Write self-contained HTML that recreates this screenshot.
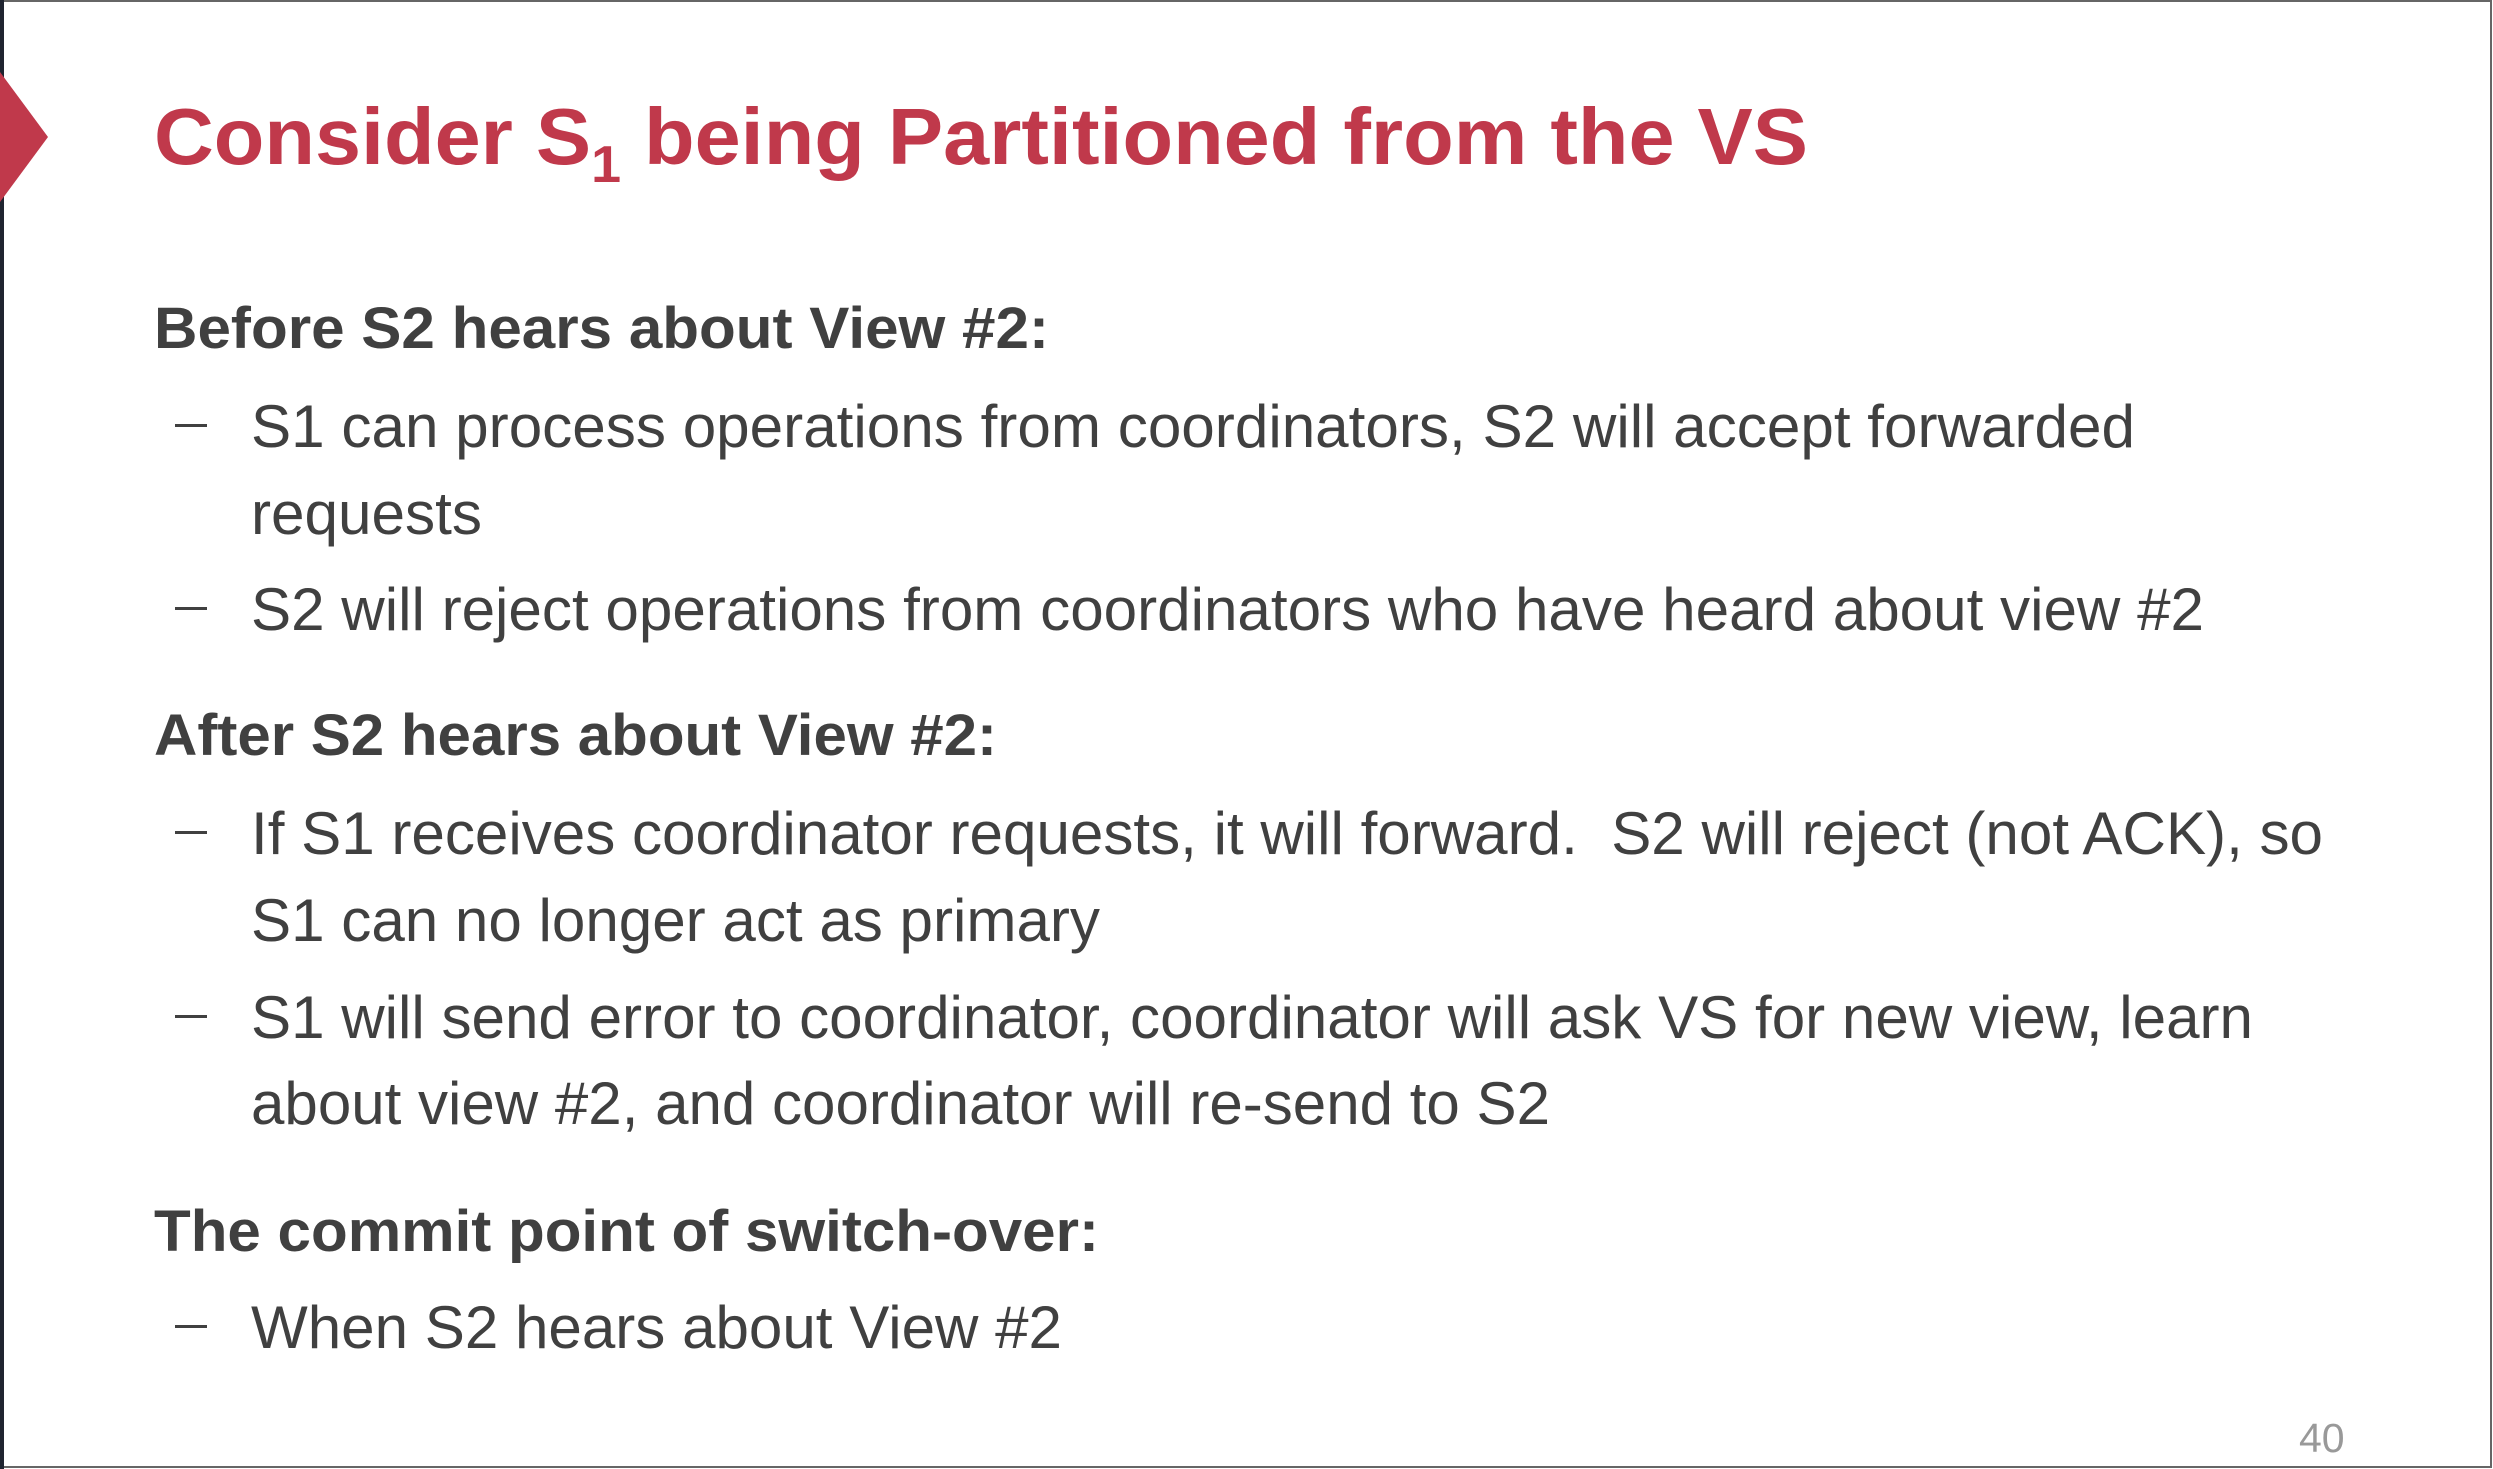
<!DOCTYPE html>
<html><head><meta charset="utf-8"><style>
html,body{margin:0;padding:0;background:#fff;}
svg{display:block;}
text{font-family:"Liberation Sans",sans-serif;}
</style></head><body>
<svg width="2493" height="1469" viewBox="0 0 2493 1469">
<rect x="0" y="0" width="2493" height="1469" fill="#fff"/>
<rect x="1" y="1" width="2490" height="1466" fill="none" stroke="#666" stroke-width="2"/>
<rect x="0" y="0" width="4" height="1469" fill="#1f2430"/>
<polygon points="0,72 48,137 0,202" fill="#c0394b"/>
<text x="154" y="164" font-size="80" font-weight="bold" fill="#c0394b" textLength="1654" lengthAdjust="spacingAndGlyphs">Consider S<tspan font-size="52" dy="18">1</tspan><tspan dy="-18"> being Partitioned from the VS</tspan></text>
<g fill="#404040" font-size="60">
<text x="154" y="348" font-weight="bold" font-size="58" textLength="895" lengthAdjust="spacingAndGlyphs">Before S2 hears about View #2:</text>
<rect x="175" y="424" width="32" height="3"/>
<text x="251" y="447" textLength="1884" lengthAdjust="spacingAndGlyphs">S1 can process operations from coordinators, S2 will accept forwarded</text>
<text x="251" y="534" textLength="231" lengthAdjust="spacingAndGlyphs">requests</text>
<rect x="175" y="607" width="32" height="3"/>
<text x="251" y="630" textLength="1953" lengthAdjust="spacingAndGlyphs">S2 will reject operations from coordinators who have heard about view #2</text>
<text x="154" y="755" font-weight="bold" font-size="58" textLength="843" lengthAdjust="spacingAndGlyphs">After S2 hears about View #2:</text>
<rect x="175" y="831" width="32" height="3"/>
<text x="251" y="854" textLength="2072" lengthAdjust="spacingAndGlyphs">If S1 receives coordinator requests, it will forward.&#160; S2 will reject (not ACK), so</text>
<text x="251" y="941" textLength="849" lengthAdjust="spacingAndGlyphs">S1 can no longer act as primary</text>
<rect x="175" y="1015" width="32" height="3"/>
<text x="251" y="1038" textLength="2002" lengthAdjust="spacingAndGlyphs">S1 will send error to coordinator, coordinator will ask VS for new view, learn</text>
<text x="251" y="1124" textLength="1299" lengthAdjust="spacingAndGlyphs">about view #2, and coordinator will re-send to S2</text>
<text x="154" y="1251" font-weight="bold" font-size="58" textLength="945" lengthAdjust="spacingAndGlyphs">The commit point of switch-over:</text>
<rect x="175" y="1325" width="32" height="3"/>
<text x="251" y="1348" textLength="811" lengthAdjust="spacingAndGlyphs">When S2 hears about View #2</text>
</g>
<text x="2299" y="1452" font-size="41" fill="#999">40</text>
</svg>
</body></html>
